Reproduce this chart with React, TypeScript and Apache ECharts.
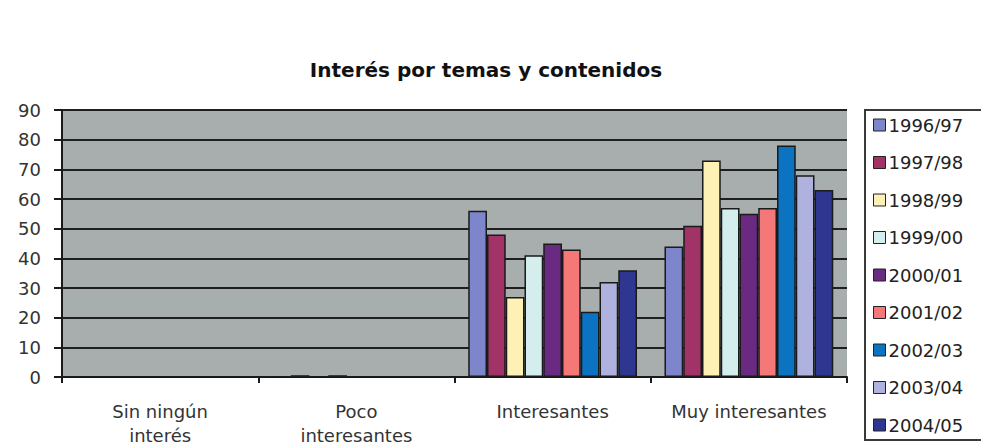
import React, { useEffect, useRef } from "react";
import * as echarts from "echarts";

const categories = ["Sin ningún\ninterés", "Poco\ninteresantes", "Interesantes", "Muy interesantes"];
const years = ["1996/97", "1997/98", "1998/99", "1999/00", "2000/01", "2001/02", "2002/03", "2003/04", "2004/05"];
const v1996 = [0, 0, 56, 44];
const v1997 = [0, 0.6, 48, 51];
const v1998 = [0, 0, 27, 73];
const v1999 = [0, 0.6, 41, 57];
const v2000 = [0, 0, 45, 55];
const v2001 = [0, 0, 43, 57];
const v2002 = [0, 0, 22, 78];
const v2003 = [0, 0, 32, 68];
const v2004 = [0, 0, 36, 63];
const seriesValues = [v1996, v1997, v1998, v1999, v2000, v2001, v2002, v2003, v2004];
const colors = ["#7d86cb", "#a13367", "#fdf1b6", "#d3eeec", "#6b2a82", "#f37877", "#0c72c2", "#afb1de", "#2f3690"];
const yTicks = { min: 0, max: 90, interval: 10 };

export default function App() {
  const ref = useRef<HTMLDivElement>(null);
  useEffect(() => {
    if (!ref.current) return;
    const chart = echarts.init(ref.current, null, { renderer: "svg" });
    const font = "DejaVu Sans";
    chart.setOption({
      animation: false,
      backgroundColor: "#ffffff",
      title: {
        text: "Interés por temas y contenidos",
        left: 481,
        top: 55,
        textAlign: "center",
        textStyle: { fontFamily: font, fontWeight: "bold", fontSize: 20, color: "#111" },
      },
      graphic: [
        {
          type: "rect",
          shape: { x: 865, y: 110, width: 130, height: 330 },
          style: { fill: "#ffffff", stroke: "#3a3a3a", lineWidth: 2 },
          z: 0,
        },
      ],
      legend: {
        orient: "vertical",
        left: 873,
        top: 115,
        padding: 0,
        itemWidth: 12,
        itemHeight: 12,
        itemGap: 17.5,
        icon: "rect",
        textStyle: { fontFamily: font, fontSize: 18, color: "#222", lineHeight: 20, padding: [0, 0, 0, -2] },
        itemStyle: { borderColor: "#222", borderWidth: 1 },
        data: years,
      },
      grid: {
        left: 62,
        right: 134,
        top: 110,
        bottom: 71,
        show: true,
        containLabel: false,
        outerBoundsMode: "none",
        backgroundColor: "#a8adad",
        borderWidth: 0,
      },
      xAxis: {
        type: "category",
        data: categories,
        axisLine: { show: true, lineStyle: { color: "#1a1a1a", width: 2 } },
        axisTick: { show: true, alignWithLabel: false, length: 6, lineStyle: { color: "#1a1a1a", width: 2 } },
        axisLabel: {
          fontFamily: font,
          fontSize: 18,
          color: "#333",
          lineHeight: 24,
          margin: 22,
          interval: 0,
        },
      },
      yAxis: {
        type: "value",
        min: yTicks.min,
        max: yTicks.max,
        interval: yTicks.interval,
        axisLine: { show: true, lineStyle: { color: "#1a1a1a", width: 2 } },
        axisTick: { show: true, length: 8, lineStyle: { color: "#1a1a1a", width: 2 } },
        splitLine: { show: true, lineStyle: { color: "#1f1f1f", width: 2 } },
        axisLabel: { fontFamily: font, fontSize: 18, color: "#333", margin: 21 },
      },
      series: years.map((name, i) => ({
        name,
        type: "bar",
        data: seriesValues[i],
        barGap: "0%",
        barCategoryGap: "14%",
        itemStyle: { color: colors[i], borderColor: "#1a1a1a", borderWidth: 1.5 },
      })),
    });
    return () => chart.dispose();
  }, []);
  return <div ref={ref} style={{ position: "fixed", left: 0, top: 0, width: 981, height: 448 }} />;
}
